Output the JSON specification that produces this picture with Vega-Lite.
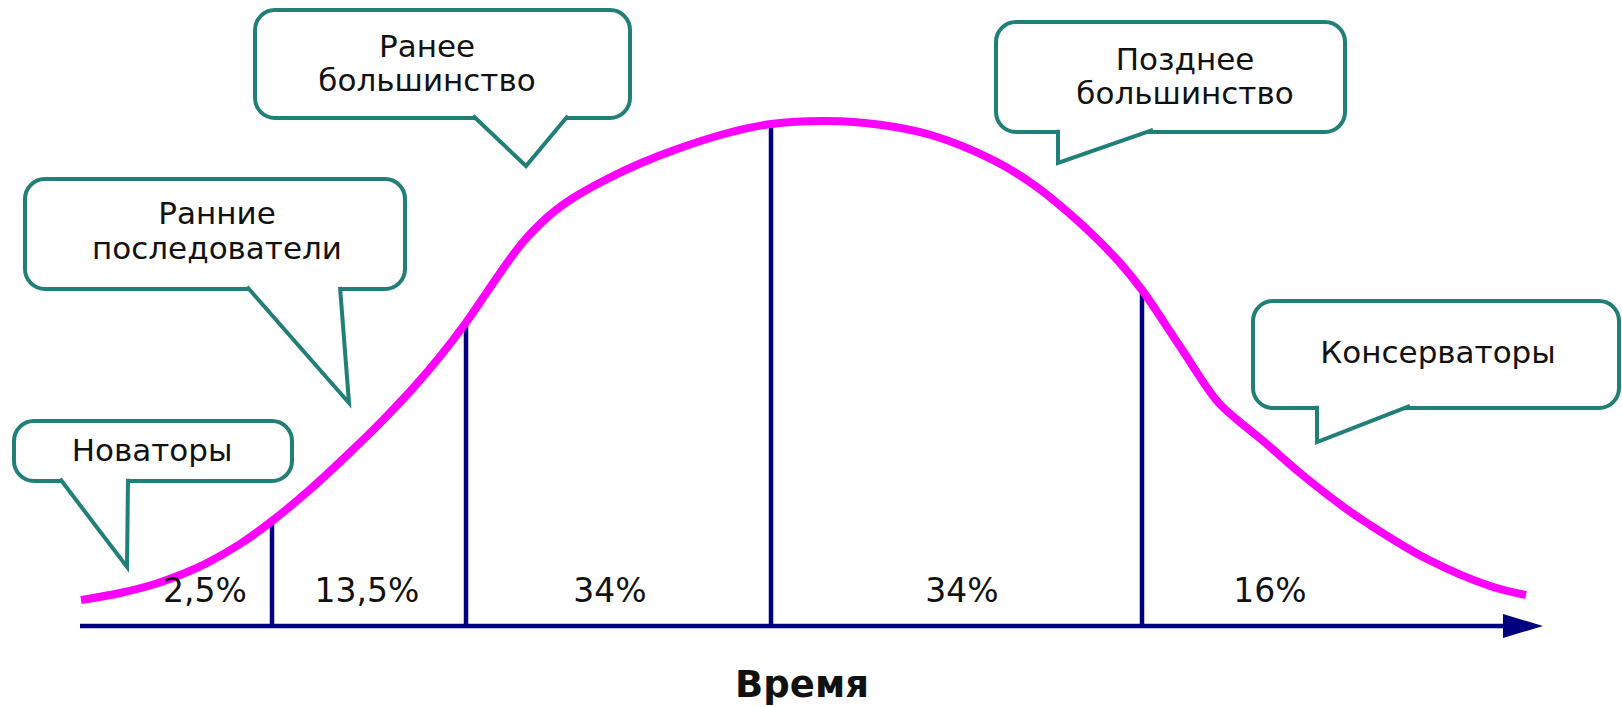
{
  "$schema": "https://vega.github.io/schema/vega-lite/v6.json",
  "width": 1622,
  "height": 707,
  "autosize": "none",
  "padding": 0,
  "background": "white",
  "config": {"view": {"stroke": null}},
  "datasets": {
    "curve": [
      {"t": 8.1, "v": 2.6}, {"t": 12.0, "v": 3.3}, {"t": 15.5, "v": 4.2}, {"t": 18.5, "v": 5.3},
      {"t": 20.7, "v": 6.3}, {"t": 24.0, "v": 8.2}, {"t": 27.2, "v": 10.5}, {"t": 31.0, "v": 13.65},
      {"t": 35.2, "v": 17.55}, {"t": 38.3, "v": 20.6}, {"t": 41.4, "v": 23.9}, {"t": 44.0, "v": 26.95},
      {"t": 46.6, "v": 30.35}, {"t": 48.7, "v": 33.4}, {"t": 50.7, "v": 36.3}, {"t": 52.3, "v": 38.4},
      {"t": 54.0, "v": 40.2}, {"t": 55.6, "v": 41.6}, {"t": 57.3, "v": 42.8}, {"t": 60.7, "v": 44.7},
      {"t": 64.0, "v": 46.25}, {"t": 67.3, "v": 47.55}, {"t": 72.4, "v": 49.2}, {"t": 77.1, "v": 50.2},
      {"t": 82.7, "v": 50.5}, {"t": 88.0, "v": 50.13}, {"t": 93.1, "v": 49.1}, {"t": 99.3, "v": 46.6},
      {"t": 103.4, "v": 44.1}, {"t": 107.0, "v": 41.2}, {"t": 109.6, "v": 38.8}, {"t": 112.0, "v": 36.3},
      {"t": 114.2, "v": 33.6}, {"t": 117.9, "v": 28.1}, {"t": 121.7, "v": 22.5}, {"t": 123.5, "v": 20.8},
      {"t": 126.2, "v": 18.6}, {"t": 130.0, "v": 15.3}, {"t": 134.5, "v": 11.8}, {"t": 136.7, "v": 10.3},
      {"t": 142.7, "v": 6.7}, {"t": 149.0, "v": 4.0}, {"t": 152.6, "v": 3.1}
    ],
    "dividers": [
      {"t": 27.2, "v": 0, "v2": 10.5},
      {"t": 46.6, "v": 0, "v2": 30.35},
      {"t": 77.1, "v": 0, "v2": 50.2},
      {"t": 114.2, "v": 0, "v2": 33.6}
    ],
    "axisline": [{"t": 8.0, "t2": 151.0, "v": 0}],
    "arrow": [{"t": 152.3, "v": 0}],
    "shares": [
      {"t": 20.5, "v": 3.4, "label": "2,5%"},
      {"t": 36.7, "v": 3.4, "label": "13,5%"},
      {"t": 61.0, "v": 3.4, "label": "34%"},
      {"t": 96.2, "v": 3.4, "label": "34%"},
      {"t": 127.0, "v": 3.4, "label": "16%"}
    ],
    "title": [{"t": 80.2, "v": -6.0, "label": "Время"}],
    "boxes": [
      {"id": "a", "t": 1.4, "t2": 29.2, "v": 20.5, "v2": 14.5},
      {"id": "b", "t": 2.5, "t2": 40.5, "v": 44.7, "v2": 33.7},
      {"id": "c", "t": 25.5, "t2": 63.0, "v": 61.6, "v2": 50.8},
      {"id": "d", "t": 99.6, "t2": 134.5, "v": 60.4, "v2": 49.4},
      {"id": "e", "t": 125.3, "t2": 161.9, "v": 32.5, "v2": 21.8}
    ],
    "tails": [
      {"id": "a", "o": 1, "t": 6.0, "v": 14.72}, {"id": "a", "o": 2, "t": 12.7, "v": 5.9}, {"id": "a", "o": 3, "t": 12.8, "v": 14.72},
      {"id": "b", "o": 1, "t": 24.7, "v": 33.92}, {"id": "b", "o": 2, "t": 34.9, "v": 22.3}, {"id": "b", "o": 3, "t": 34.0, "v": 33.92},
      {"id": "c", "o": 1, "t": 47.3, "v": 51.02}, {"id": "c", "o": 2, "t": 52.6, "v": 46.0}, {"id": "c", "o": 3, "t": 56.8, "v": 51.02},
      {"id": "d", "o": 1, "t": 105.8, "v": 49.62}, {"id": "d", "o": 2, "t": 105.8, "v": 46.3}, {"id": "d", "o": 3, "t": 115.3, "v": 49.62},
      {"id": "e", "o": 1, "t": 131.7, "v": 22.02}, {"id": "e", "o": 2, "t": 131.7, "v": 18.4}, {"id": "e", "o": 3, "t": 141.0, "v": 22.02}
    ],
    "names": [
      {"t": 15.2, "v": 17.4, "label": "Новаторы"},
      {"t": 21.7, "v": 41.1, "label": "Ранние"},
      {"t": 21.7, "v": 37.6, "label": "последователи"},
      {"t": 42.7, "v": 57.8, "label": "Ранее"},
      {"t": 42.7, "v": 54.4, "label": "большинство"},
      {"t": 118.5, "v": 56.5, "label": "Позднее"},
      {"t": 118.5, "v": 53.1, "label": "большинство"},
      {"t": 143.8, "v": 27.2, "label": "Консерваторы"}
    ]
  },
  "encoding": {
    "x": {"field": "t", "type": "quantitative", "axis": null, "scale": {"domain": [0, 162.2], "nice": false, "zero": false}},
    "y": {"field": "v", "type": "quantitative", "axis": null, "scale": {"domain": [-8.1, 62.6], "nice": false, "zero": false}}
  },
  "layer": [
    {
      "data": {"name": "axisline"},
      "mark": {"type": "rule", "color": "#000080", "strokeWidth": 4.5},
      "encoding": {"x2": {"field": "t2"}}
    },
    {
      "data": {"name": "arrow"},
      "mark": {"type": "point", "shape": "M-1,-0.6L1,0L-1,0.6Z", "size": 1600, "filled": true, "color": "#000080", "opacity": 1, "strokeWidth": 0}
    },
    {
      "data": {"name": "dividers"},
      "mark": {"type": "rule", "color": "#000080", "strokeWidth": 4.5},
      "encoding": {"y2": {"field": "v2"}}
    },
    {
      "data": {"name": "curve"},
      "mark": {"type": "line", "color": "#ff00ff", "strokeWidth": 8, "interpolate": "catmull-rom"},
      "encoding": {}
    },
    {
      "data": {"name": "shares"},
      "mark": {"type": "text", "font": "DejaVu Sans", "fontSize": 33, "color": "#111111", "baseline": "middle", "align": "center"},
      "encoding": {"text": {"field": "label"}}
    },
    {
      "data": {"name": "title"},
      "mark": {"type": "text", "font": "DejaVu Sans", "fontSize": 37, "fontWeight": "bold", "color": "#111111", "baseline": "middle", "align": "center"},
      "encoding": {"text": {"field": "label"}}
    },
    {
      "data": {"name": "boxes"},
      "mark": {"type": "rect", "fill": "white", "stroke": "#217f78", "strokeWidth": 4, "cornerRadius": 20},
      "encoding": {"x2": {"field": "t2"}, "y2": {"field": "v2"}}
    },
    {
      "data": {"name": "tails"},
      "mark": {"type": "line", "fill": "white", "stroke": "#217f78", "strokeWidth": 4, "strokeJoin": "miter", "interpolate": "linear"},
      "encoding": {"detail": {"field": "id"}, "order": {"field": "o", "type": "quantitative"}}
    },
    {
      "data": {"name": "names"},
      "mark": {"type": "text", "font": "DejaVu Sans", "fontSize": 31, "color": "#111111", "baseline": "middle", "align": "center"},
      "encoding": {"text": {"field": "label"}}
    }
  ]
}
